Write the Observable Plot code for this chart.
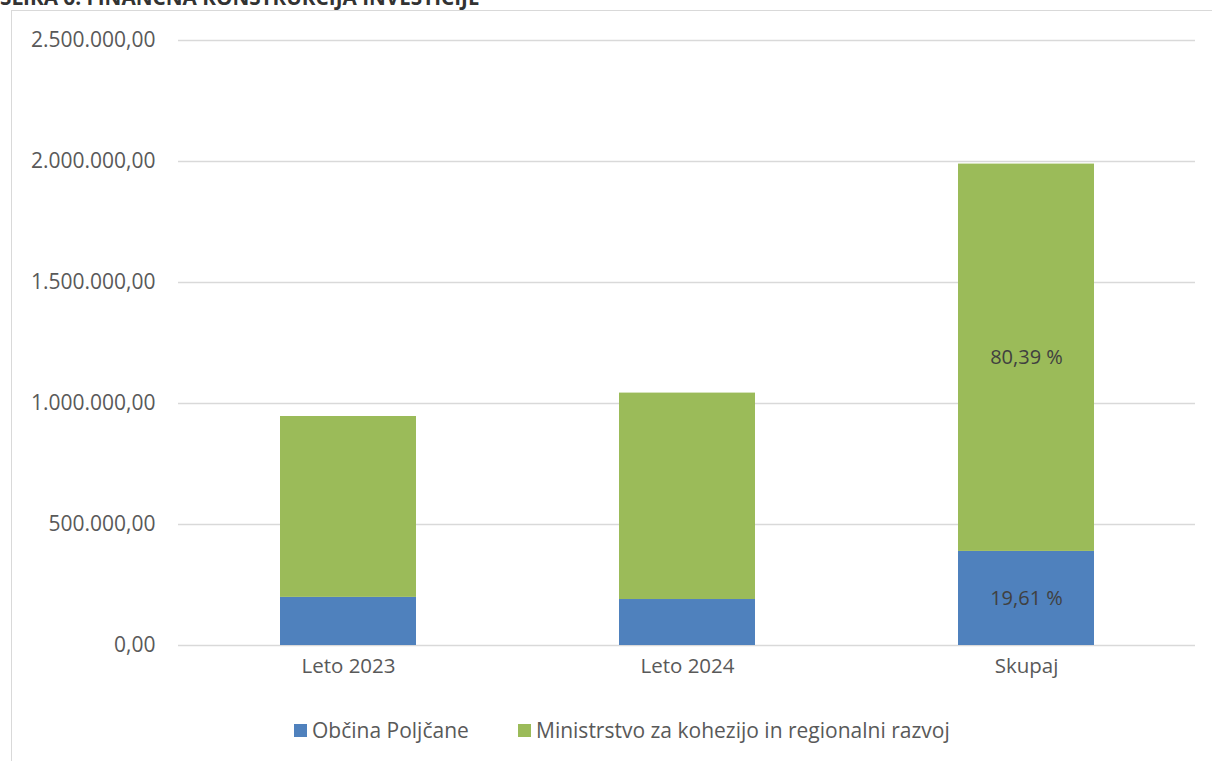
<!DOCTYPE html>
<html><head><meta charset="utf-8">
<script src="https://cdn.jsdelivr.net/npm/d3@7"></script>
<script src="https://cdn.jsdelivr.net/npm/@observablehq/plot@0.6"></script>
<style>
body{margin:0;background:#fff;width:1212px;height:761px;overflow:hidden;position:relative;font-family:"Open Sans",sans-serif;}
#title{position:absolute;left:0;top:-17px;font-weight:bold;font-size:20.7px;color:#333;white-space:nowrap;}
#frame{position:absolute;left:11px;top:10px;width:1220px;height:800px;border:1.5px solid #d9d9d9;box-sizing:border-box;}
#chart{position:absolute;left:0;top:0;}
#legend{position:absolute;top:715px;left:0;width:1212px;font-size:21px;color:#595959;}
.li{position:absolute;display:flex;align-items:center;white-space:nowrap;height:30px;}
.sw{width:13px;height:13px;margin-right:5px;}
</style></head>
<body>
<div id="title">SLIKA 6: FINANČNA KONSTRUKCIJA INVESTICIJE</div>
<div id="frame"></div>
<div id="chart"></div>
<div id="legend"></div>
<script>
const categories = ["Leto 2023", "Leto 2024", "Skupaj"];
const seriesNames = ["Občina Poljčane", "Ministrstvo za kohezijo in regionalni razvoj"];
const obcina = [198800, 190000, 388800];
const ministrstvo = [747500, 853000, 1600500];
const pctLabels = ["", "", "19,61 %"];
const pctLabels2 = ["", "", "80,39 %"];
const yTicks = [0, 500000, 1000000, 1500000, 2000000, 2500000];
const colors = ["#4f81bd", "#9bbb59"];

const rows = [];
categories.forEach((c, i) => {
  rows.push({cat: c, series: seriesNames[0], value: obcina[i], label: pctLabels[i]});
  rows.push({cat: c, series: seriesNames[1], value: ministrstvo[i], label: pctLabels2[i]});
});

const fmt = v => v.toLocaleString("de-DE", {minimumFractionDigits: 2, maximumFractionDigits: 2});

const plot = Plot.plot({
  width: 1212, height: 700,
  marginLeft: 178, marginRight: 17, marginTop: 40, marginBottom: 55,
  style: {fontFamily: "'Open Sans', sans-serif", fontSize: "20px", color: "#595959", background: "transparent"},
  x: {domain: categories, paddingInner: 0.6, paddingOuter: 0.3, label: null},
  y: {domain: [0, 2500000], label: null},
  color: {domain: seriesNames, range: colors},
  marks: [
    Plot.gridY(yTicks, {stroke: "#d9d9d9", strokeOpacity: 1, strokeWidth: 1.5}),
    Plot.axisY(yTicks, {tickSize: 0, tickPadding: 23, tickFormat: fmt, fontSize: 21, fill: "#595959", label: null}),
    Plot.axisX({tickSize: 0, tickPadding: 13, fontSize: 20.5, fill: "#595959", label: null}),
    Plot.barY(rows, Plot.stackY({x: "cat", y: "value", z: "series", fill: "series", order: seriesNames})),
    Plot.text(rows, Plot.stackY({x: "cat", y: "value", z: "series", text: "label", order: seriesNames, fill: "#404040", fontSize: 20}))
  ]
});
document.getElementById("chart").appendChild(plot);

const legend = document.getElementById("legend");
const lpos = [294, 518];
seriesNames.forEach((s, i) => {
  const d = document.createElement("div");
  d.className = "li";
  d.style.left = lpos[i] + "px";
  d.innerHTML = `<span class="sw" style="background:${colors[i]}"></span><span>${s}</span>`;
  legend.appendChild(d);
});
</script>
</body></html>
